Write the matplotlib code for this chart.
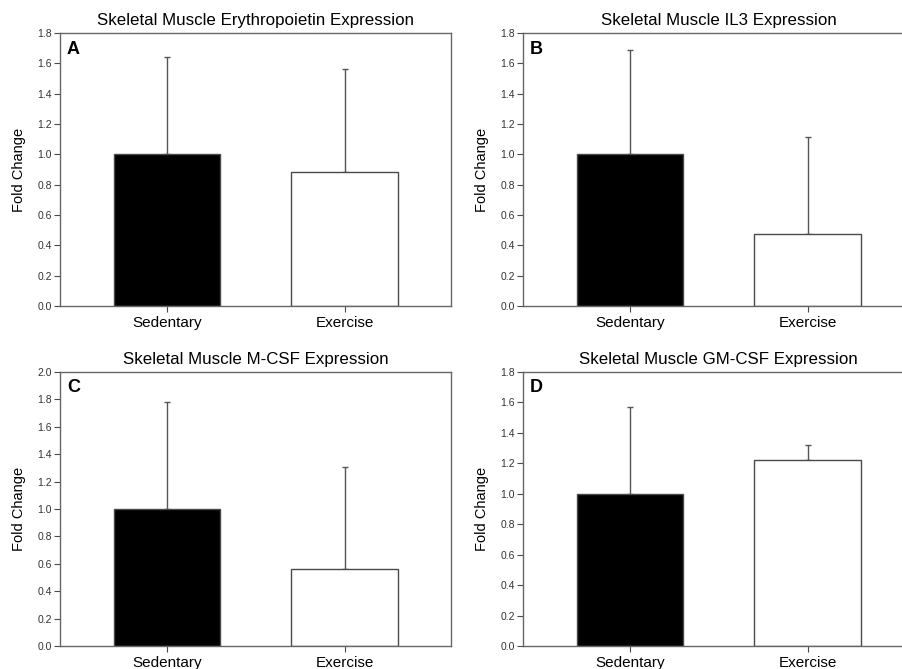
import matplotlib
matplotlib.use("Agg")
import matplotlib.pyplot as plt

plt.rcParams['font.family'] = ['Liberation Sans', 'DejaVu Sans']

groups = ["Sedentary", "Exercise"]
titles = [
    "Skeletal Muscle Erythropoietin Expression",
    "Skeletal Muscle IL3 Expression",
    "Skeletal Muscle M-CSF Expression",
    "Skeletal Muscle GM-CSF Expression",
]
panel_letters = ["A", "B", "C", "D"]
means_epo = [1.00, 0.885]
err_epo = [0.64, 0.68]
means_il3 = [1.00, 0.475]
err_il3 = [0.685, 0.64]
means_mcsf = [1.00, 0.56]
err_mcsf = [0.78, 0.745]
means_gmcsf = [1.00, 1.22]
err_gmcsf = [0.57, 0.10]
y_max = [1.8, 1.8, 2.0, 1.8]

W, H = 902, 669
fig = plt.figure(figsize=(W / 100, H / 100), dpi=100)

# axes boxes in pixels: left, right, top, bottom
boxes = [
    (60, 451, 33, 306),
    (523, 914, 33, 306),
    (60, 451, 372, 646),
    (523, 914, 372, 646),
]
means = [means_epo, means_il3, means_mcsf, means_gmcsf]
errs = [err_epo, err_il3, err_mcsf, err_gmcsf]

edge = "#4a4a4a"
for i in range(4):
    l, r, t, b = boxes[i]
    ax = fig.add_axes([l / W, 1 - b / H, (r - l) / W, (b - t) / H])
    x = [1, 2]
    ax.bar(x, means[i], width=0.6, color=["black", "white"],
           edgecolor=edge, linewidth=1.0, zorder=2)
    ax.errorbar(x, means[i], yerr=[[0, 0], errs[i]], fmt="none",
                ecolor="#555555", elinewidth=1.0, capsize=2.5,
                capthick=1.0, zorder=1)
    ax.set_xlim(0.395, 2.6)
    ax.set_ylim(0, y_max[i])
    ax.set_xticks(x)
    ax.set_xticklabels(groups, fontsize=11)
    step = 0.2
    n = int(round(y_max[i] / step))
    ax.set_yticks([k * step for k in range(n + 1)])
    ax.set_yticklabels([f"{k * step:.1f}" for k in range(n + 1)],
                       fontsize=7.5, color="#333333")
    ax.tick_params(axis="y", length=4, width=0.8, color=edge, pad=2)
    ax.tick_params(axis="x", length=4, width=0.8, color=edge, pad=3)
    for s in ax.spines.values():
        s.set_color("#666666")
        s.set_linewidth(1.0)
    ax.set_ylabel("Fold Change", fontsize=10.5, labelpad=8)
    ax.set_title(titles[i], fontsize=12.2, pad=6)
    ax.text(7 / (r - l), 1 - 16 / (b - t), panel_letters[i],
            transform=ax.transAxes, fontsize=13, fontweight="bold",
            va="center", ha="left")

fig.savefig("out.png", dpi=100)
